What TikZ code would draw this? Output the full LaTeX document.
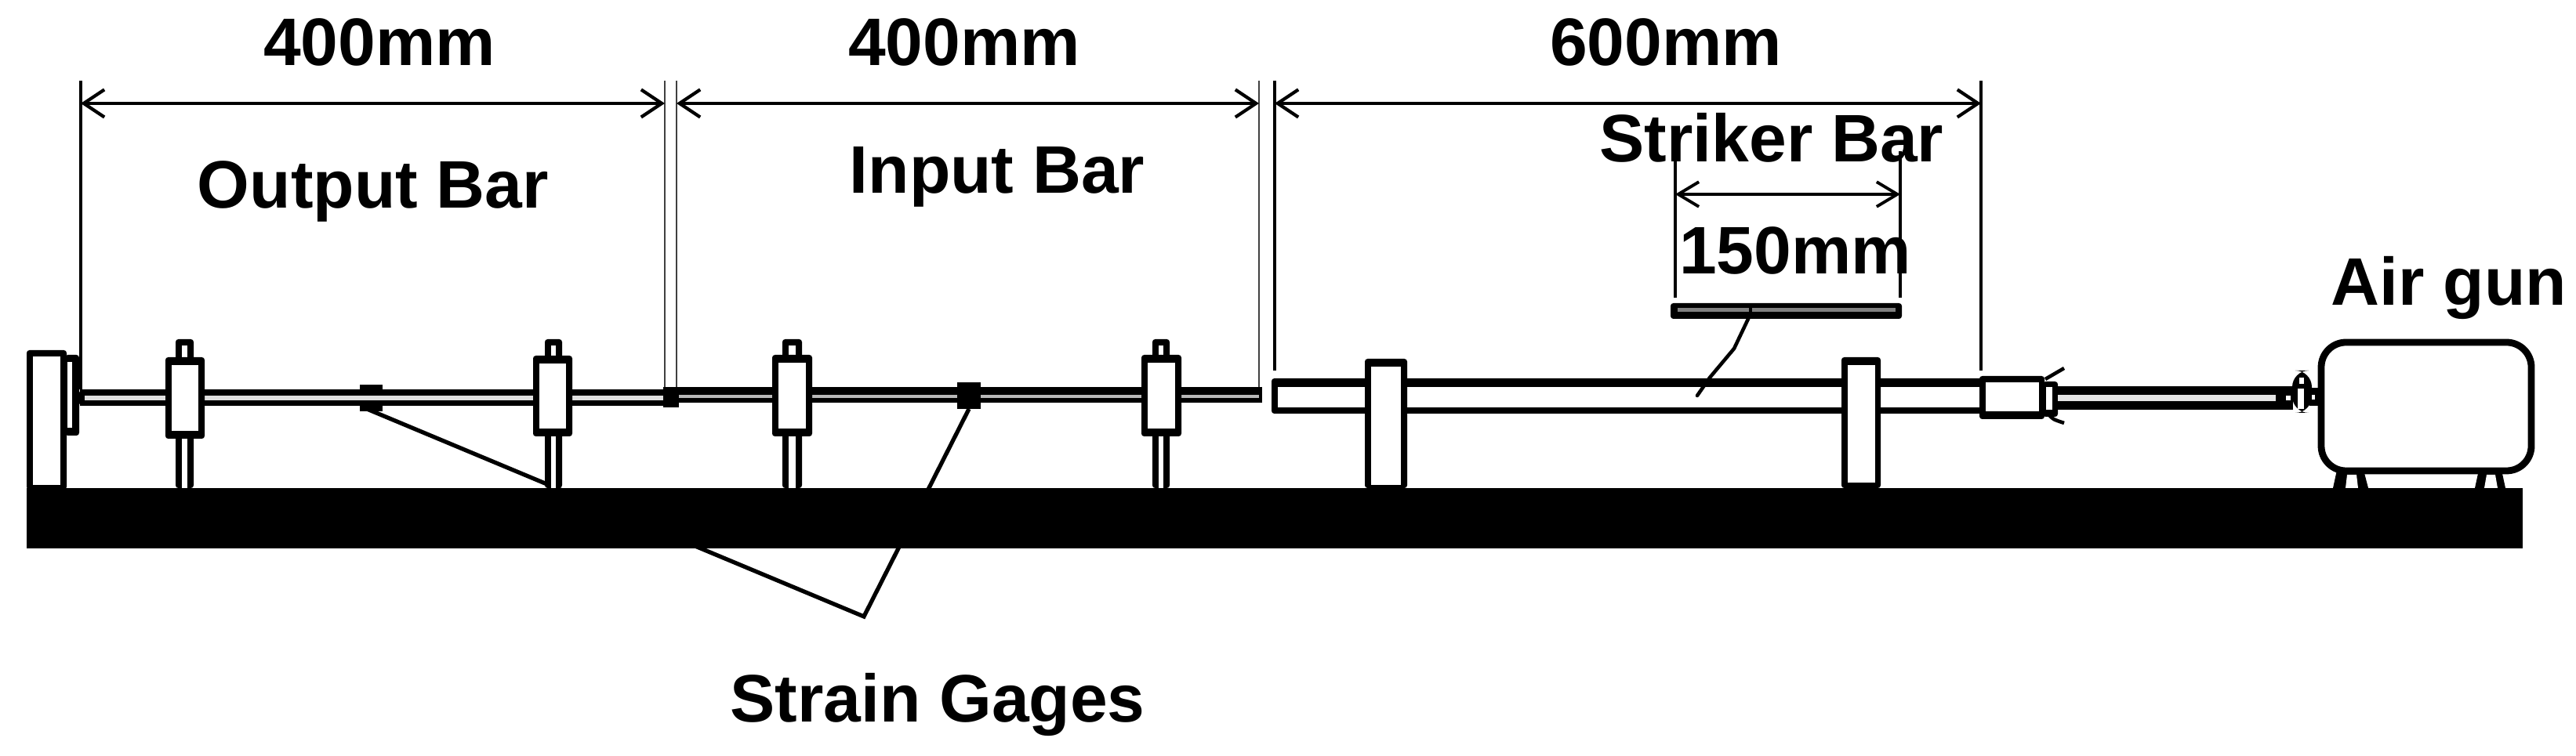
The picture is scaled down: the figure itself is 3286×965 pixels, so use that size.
\documentclass[tikz,border=0pt]{standalone}
\usepackage{fontspec}
\setmainfont{Liberation Sans}
\usetikzlibrary{arrows.meta}
\tikzset{
  lab/.style={font=\fontsize{24.4pt}{26pt}\selectfont\bfseries,anchor=base,inner sep=0pt,text=black},
  ext/.style={draw=black,line width=1.2pt},
  extthin/.style={draw=black!75,line width=0.7pt},
  dimbig/.style={draw=black,line width=1.3pt,{Straight Barb[length=7.5pt,width=10pt,line width=1.2pt]}-{Straight Barb[length=7.5pt,width=10pt,line width=1.2pt]}},
  dimsmall/.style={draw=black,line width=1.2pt,{Straight Barb[length=7.5pt,width=9pt,line width=1.1pt]}-{Straight Barb[length=7.5pt,width=9pt,line width=1.1pt]}},
  leader/.style={draw=black,line width=1.3pt},
  blk/.style={fill=black,rounded corners=1pt},
  wht/.style={fill=white},
}
% x1 x2 outer of clamp, bx1 bx2 outer of bolt, top of clamp, bottom of clamp
\newcommand{\clampunit}[6]{%
  \fill[blk] (#3,433) rectangle (#4,623);
  \fill[wht] ({#3+8},441) rectangle ({#4-8},#5);
  \fill[wht] ({#3+8},#6) rectangle ({#4-8},623);
  \fill[blk] (#1,#5) rectangle (#2,#6);
  \fill[wht] ({#1+8},{#5+10}) rectangle ({#2-8},{#6-10});
}
\begin{document}
\begin{tikzpicture}[x=0.01cm,y=-0.01cm]
\useasboundingbox (0,0) rectangle (3286,965);
\fill[white] (0,0) rectangle (3286,965);

% named anchor points
\coordinate (dAl) at (103,132); \coordinate (dAr) at (848,132);
\coordinate (dBl) at (863,132); \coordinate (dBr) at (1606,132);
\coordinate (dCl) at (1626,132); \coordinate (dCr) at (2527,132);
\coordinate (dSl) at (2137,248); \coordinate (dSr) at (2424,248);
\coordinate (extAtop) at (103,103); \coordinate (extAbot) at (103,497);
\coordinate (extBtop) at (848,103); \coordinate (extBbot) at (848,496);
\coordinate (extB2top) at (863,103); \coordinate (extB2bot) at (863,495);
\coordinate (extCtop) at (1606,103); \coordinate (extCbot) at (1606,495);
\coordinate (extDtop) at (1626,103); \coordinate (extDbot) at (1626,473);
\coordinate (extEtop) at (2527,103); \coordinate (extEbot) at (2527,473);
\coordinate (extSltop) at (2137,193); \coordinate (extSlbot) at (2137,380);
\coordinate (extSrtop) at (2424,193); \coordinate (extSrbot) at (2424,380);
\coordinate (gageA) at (468,522); \coordinate (gageB) at (1236,522);
\coordinate (apex) at (1102,787);
\coordinate (strikerTick) at (2231,405); \coordinate (strikerMid) at (2197,470); \coordinate (strikerEnd) at (2165,505);

% leader lines (base is drawn over them)
\draw[leader,line width=1.5pt] (gageA) -- (apex) -- (gageB);

% extension lines
\draw[ext] (extAtop) -- (extAbot);
\draw[extthin] (extBtop) -- (extBbot);
\draw[extthin] (extB2top) -- (extB2bot);
\draw[extthin] (extCtop) -- (extCbot);
\draw[ext] (extDtop) -- (extDbot);
\draw[ext] (extEtop) -- (extEbot);
\draw[ext] (extSltop) -- (extSlbot);
\draw[ext] (extSrtop) -- (extSrbot);

% dimension arrows
\draw[dimbig] (dAl) -- (dAr);
\draw[dimbig] (dBl) -- (dBr);
\draw[dimbig] (dCl) -- (dCr);
\draw[dimsmall] (dSl) -- (dSr);

% end wall and flange
\fill[blk] (34,447) rectangle (85,625);
\fill[wht] (42,455) rectangle (77,619);
\fill[blk] (83,453) rectangle (101,556);
\fill[wht] (86,462) rectangle (92,546);
\fill[blk] (92,500) rectangle (104,516);

% output bar
\fill[black] (102,497) rectangle (850,518);
\fill[black!12] (108,505) rectangle (846,511);

% input bar
\fill[black] (846,494) rectangle (1610,514);
\fill[black] (846,497) rectangle (866,520);
\fill[black!28] (866,504) rectangle (1606,508);
\fill[black] (846,504) rectangle (850,510);

% gauges
\fill[black] (459,491) rectangle (488,499);
\fill[black] (459,516) rectangle (488,525);
\fill[black] (1221,488) rectangle (1251,522);

% clamps of the bars
\clampunit{211}{261}{224}{247}{456}{560}
\clampunit{680}{730}{695}{717}{454}{557}
\clampunit{985}{1036}{998}{1023}{453}{557}
\clampunit{1456}{1507}{1470}{1492}{453}{557}

% launch tube
\fill[blk] (1622,483) rectangle (2530,528);
\fill[wht] (1630,494) rectangle (2530,520);
\fill[blk] (1741,458) rectangle (1795,623);
\fill[wht] (1749,468) rectangle (1787,619);
\fill[blk] (2349,456) rectangle (2399,623);
\fill[wht] (2357,466) rectangle (2392,616);

% striker bar and its leader
\draw[leader,line cap=round] (strikerTick) -- (2212,445) -- (2181,482) -- (strikerEnd);
\fill[blk] (2131,387) rectangle (2426,407);
\fill[black!50] (2140,393) rectangle (2418,398);
\fill[black] (2231,391) rectangle (2235,400);

% coupling
\fill[blk] (2525,480) rectangle (2608,535);
\fill[wht] (2533,488) rectangle (2601,525);
\fill[blk] (2606,487) rectangle (2625,532);
\fill[wht] (2610,494) rectangle (2618,523);
\draw[leader] (2609,484) -- (2633,470);
\draw[leader] (2612,527) .. controls (2618,535) .. (2633,540);

% air tube
\fill[black] (2625,493) rectangle (2925,523);
\fill[black!10] (2625,504) rectangle (2903,512);
\fill[white] (2916,505) rectangle (2922,511);

% valve
\fill[black,rounded corners=6pt] (2924,473) rectangle (2949,527);
\fill[white] (2933,482) rectangle (2939,490);
\fill[white] (2931,496) rectangle (2939,522);
\fill[black] (2946,495) rectangle (2962,518);
\fill[white] (2949,504) rectangle (2953,510);

% tank and feet
\fill[black] (2976,623) -- (2981,600) -- (3015,600) -- (3021,623) -- cycle;
\fill[white] (2992,623) -- (2994,606) -- (3006,606) -- (3008,623) -- cycle;
\fill[black] (3157,623) -- (3162,600) -- (3191,600) -- (3196,623) -- cycle;
\fill[white] (3169,623) -- (3172,606) -- (3183,606) -- (3186,623) -- cycle;
\draw[draw=black,fill=white,line width=2.5pt,rounded corners=9pt] (2961,437) rectangle (3229,601);

% base
\fill[black] (34,623) rectangle (3218,700);

% labels
\node[lab] (lA) at (484,84) {400mm};
\node[lab] (lB) at (1230,84) {400mm};
\node[lab] (lC) at (2125,84) {600mm};
\node[lab] (lOut) at (476,266) {Output Bar};
\node[lab] (lIn) at (1272,247) {Input Bar};
\node[lab] (lStr) at (2260,207) {Striker Bar};
\node[lab] (lS) at (2290,350) {150mm};
\node[lab] (lAir) at (3124,390) {Air gun};
\node[lab] (lGage) at (1196,922) {Strain Gages};
\end{tikzpicture}
\end{document}
